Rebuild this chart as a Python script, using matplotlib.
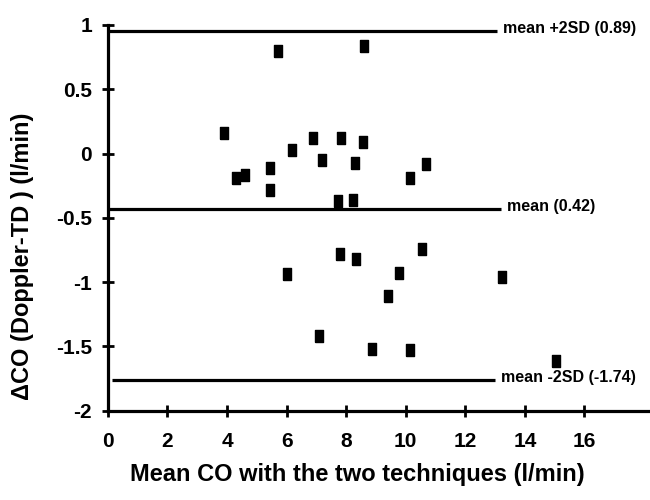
import numpy as np
import matplotlib
matplotlib.use('Agg')
from matplotlib import pyplot as plt

plt.rcParams['font.family'] = ['Liberation Sans', 'DejaVu Sans']
plt.rcParams['font.weight'] = 'bold'
plt.rcParams['axes.unicode_minus'] = False

# mean CO of the two techniques (l/min) and difference Doppler-TD (l/min)
mean_co = [5.72, 8.60, 3.90, 4.30, 4.60, 5.45, 5.45, 6.17, 6.90, 7.18,
           7.83, 8.58, 8.28, 7.74, 8.22, 10.13, 10.69, 6.00, 7.80, 8.33,
           9.76, 9.42, 10.54, 7.09, 8.86, 10.15, 13.23, 15.03]
diff_co = [0.80, 0.84, 0.16, -0.19, -0.17, -0.11, -0.28, 0.03, 0.12, -0.05,
           0.12, 0.09, -0.07, -0.37, -0.36, -0.19, -0.08, -0.94, -0.78, -0.82,
           -0.93, -1.11, -0.74, -1.42, -1.52, -1.53, -0.96, -1.61]

# reference lines as drawn: level, x start, x end, label
line_levels = [0.955, -0.43, -1.76]
line_x0 = [0.0, 0.0, 0.15]
line_x1 = [13.05, 13.2, 13.0]
line_labels = ['mean +2SD (0.89)', 'mean (0.42)', 'mean -2SD (-1.74)']

yticks = [1, 0.5, 0, -0.5, -1, -1.5, -2]
ytick_labels = ['1', '0.5', '0', '-0.5', '-1', '-1.5', '-2']
xticks = [0, 2, 4, 6, 8, 10, 12, 14, 16]

fig = plt.figure(figsize=(6.5, 5), dpi=100)
ax = fig.add_axes([0.166, 0.1786, 0.834, 0.7714])

# tall little box marker like the original print
box = [(-0.32, -0.5), (0.32, -0.5), (0.32, 0.5), (-0.32, 0.5), (-0.32, -0.5)]
ax.plot(mean_co, diff_co, linestyle='none', marker=box, markersize=8.5,
        color='black', clip_on=False)

for lv, x0, x1, lab in zip(line_levels, line_x0, line_x1, line_labels):
    ax.plot([x0, x1], [lv, lv], color='black', lw=2.3, solid_capstyle='butt')
    ax.text(x1 + 0.2, lv + 0.02, lab, fontsize=11.5, fontweight='bold',
            va='center', ha='left')

ax.set_xlim(0, 18.2)
ax.set_ylim(-2, 1)
ax.set_xticks(xticks)
ax.set_xticklabels([str(t) for t in xticks])
ax.set_yticks(yticks)
ax.set_yticklabels(ytick_labels)

for s in ['top', 'right']:
    ax.spines[s].set_visible(False)
for s in ['left', 'bottom']:
    ax.spines[s].set_linewidth(2.3)
ax.tick_params(direction='inout', length=9, width=2, labelsize=15, pad=7)
ax.tick_params(axis='x', pad=11)

fig.text(0.034, 0.488, 'ΔCO (Doppler-TD ) (l/min)', rotation=90,
         ha='center', va='center', fontsize=17, fontweight='bold')
fig.text(0.55, 0.05, 'Mean CO with the two techniques (l/min)',
         ha='center', va='center', fontsize=17, fontweight='bold')

fig.savefig('out.png', dpi=100)
